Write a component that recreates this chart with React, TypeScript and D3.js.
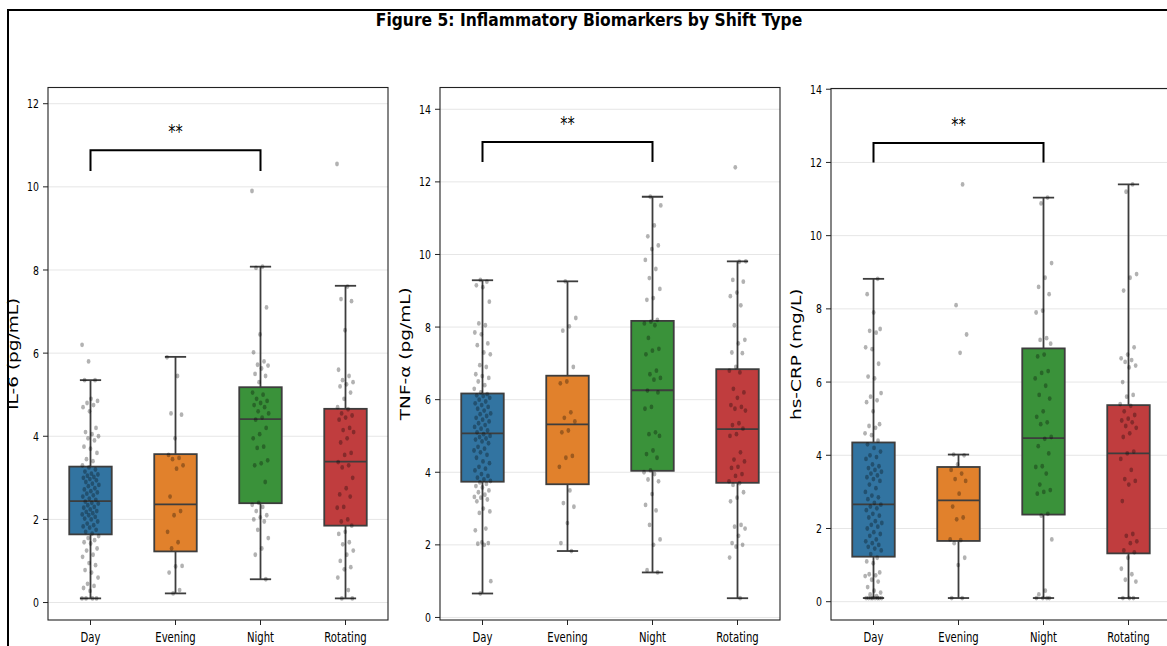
import * as d3 from 'd3';

const TITLE = 'Figure 5: Inflammatory Biomarkers by Shift Type';
const SHIFTS = ['Day', 'Evening', 'Night', 'Rotating'];
const SHIFT_COLORS = ['#3274a1', '#e1812c', '#3a923a', '#c03d3e'];
const Y_LABELS = ['IL-6 (pg/mL)', 'TNF-α (pg/mL)', 'hs-CRP (mg/L)'];
const Y_TICKS = [
  [0, 2, 4, 6, 8, 10, 12],
  [0, 2, 4, 6, 8, 10, 12, 14],
  [0, 2, 4, 6, 8, 10, 12, 14],
];
const Y_DOMAINS = [[-0.42, 12.39], [-0.07, 14.6], [-0.5, 14.02]];
// significance bracket: [leg end, bar height]
const BRACKETS = [[10.38, 10.88], [12.55, 13.1], [12.0, 12.53]];
const SIG_LABEL = '**';

// boxes: [whisker low, q1, median, q3, whisker high]
const IL6_BOXES = [
  [0.1, 1.64, 2.44, 3.27, 5.35],
  [0.22, 1.23, 2.36, 3.57, 5.91],
  [0.56, 2.39, 4.41, 5.18, 8.08],
  [0.1, 1.85, 3.39, 4.66, 7.62],
];
const TNF_BOXES = [
  [0.66, 3.74, 5.07, 6.17, 9.29],
  [1.83, 3.67, 5.32, 6.66, 9.26],
  [1.24, 4.04, 6.26, 8.17, 11.59],
  [0.53, 3.71, 5.19, 6.84, 9.81],
];
const CRP_BOXES = [
  [0.1, 1.23, 2.66, 4.35, 8.82],
  [0.1, 1.66, 2.77, 3.68, 4.02],
  [0.1, 2.38, 4.47, 6.92, 11.04],
  [0.1, 1.32, 4.05, 5.37, 11.4],
];

// individual observations
const IL6_DAY = [0.1, 0.1, 0.1, 0.1, 0.28, 0.35, 0.4, 0.45, 0.6, 0.72, 0.78, 0.9, 0.95, 1.1, 1.15, 1.25, 1.3, 1.42, 1.45, 1.5, 1.55, 1.6,
  1.66, 1.7, 1.75, 1.8, 1.83, 1.86, 1.9, 1.95, 2.0, 2.02, 2.06, 2.1, 2.12, 2.15, 2.18, 2.2, 2.24, 2.28, 2.3, 2.34, 2.38, 2.4, 2.43,
  2.47, 2.5, 2.55, 2.58, 2.62, 2.65, 2.68, 2.72, 2.75, 2.8, 2.83, 2.86, 2.9, 2.94, 2.97, 3.0, 3.02, 3.05, 3.08, 3.1, 3.15, 3.2, 3.25,
  3.3, 3.4, 3.45, 3.6, 3.7, 3.75, 3.9, 3.95, 4.0, 4.05, 4.1, 4.2, 4.6, 4.7, 4.75, 4.8, 4.85, 4.9, 5.35, 5.35, 5.8, 6.2];
const IL6_EVENING = [5.9, 5.45, 4.55, 4.52, 3.95, 3.55, 3.48, 3.45, 3.3, 3.22, 2.55, 2.2, 2.1, 1.7, 1.45, 1.3, 0.88, 0.87, 0.72, 0.3, 0.22];
const IL6_NIGHT = [9.9, 8.08, 8.05, 7.1, 6.45, 6.02, 5.8, 5.72, 5.7, 5.63, 5.5, 5.45, 5.3, 5.05, 5.0, 4.9, 4.85, 4.8, 4.75, 4.7, 4.6,
  4.55, 4.45, 4.4, 4.2, 4.05, 3.95, 3.75, 3.72, 3.42, 3.35, 3.3, 2.9, 2.4, 2.35, 2.3, 2.2, 2.1, 2.05, 2.0, 1.95, 1.75, 1.55, 1.3, 1.15, 0.56];
const IL6_ROTATING = [10.55, 7.6, 7.3, 7.25, 6.55, 5.6, 5.45, 5.35, 5.3, 5.25, 5.2, 5.05, 4.9, 4.7, 4.65, 4.55, 4.5, 4.45, 4.4, 4.2,
  4.15, 4.1, 3.95, 3.85, 3.6, 3.55, 3.38, 3.3, 3.25, 3.0, 2.75, 2.6, 2.55, 2.3, 2.28, 2.0, 1.95, 1.85, 1.7, 1.65, 1.45, 1.4, 1.25,
  1.15, 1.0, 0.85, 0.8, 0.6, 0.3, 0.1, 0.1];

const TNF_DAY = [0.66, 1.0, 2.0, 2.03, 2.05, 2.07, 2.4, 2.45, 2.88, 2.92, 3.0, 3.2, 3.25, 3.3, 3.32, 3.38, 3.45, 3.5, 3.58, 3.62, 3.68, 3.72,
  3.76, 3.8, 3.85, 3.9, 3.95, 4.05, 4.1, 4.15, 4.25, 4.3, 4.4, 4.48, 4.55, 4.6, 4.65, 4.7, 4.8, 4.85, 4.9, 4.93, 4.97, 5.0, 5.05,
  5.1, 5.15, 5.2, 5.25, 5.3, 5.35, 5.4, 5.45, 5.5, 5.55, 5.6, 5.62, 5.7, 5.75, 5.8, 5.85, 5.9, 5.95, 6.0, 6.05, 6.1, 6.12, 6.15,
  6.2, 6.3, 6.4, 6.5, 6.6, 6.65, 6.7, 6.9, 6.95, 7.25, 7.3, 7.5, 7.55, 7.8, 7.85, 8.05, 8.1, 8.7, 9.1, 9.15, 9.25, 9.3];
const TNF_EVENING = [9.26, 8.25, 8.02, 7.9, 6.9, 6.5, 6.45, 5.65, 5.5, 5.4, 5.15, 5.1, 4.45, 4.4, 4.15, 3.5, 3.15, 3.05, 2.6, 2.05, 1.83];
const TNF_NIGHT = [11.59, 11.35, 10.8, 10.5, 10.25, 10.15, 9.85, 9.6, 9.35, 9.05, 8.8, 8.75, 8.2, 8.15, 8.1, 8.05, 7.7, 7.4, 7.35,
  7.25, 6.8, 6.7, 6.6, 6.55, 6.25, 6.2, 5.8, 5.75, 5.1, 5.05, 5.0, 4.6, 4.5, 4.4, 4.05, 4.0, 3.95, 3.8, 3.75, 3.4, 3.1, 2.95, 2.55,
  2.15, 2.0, 1.3, 1.24];
const TNF_ROTATING = [12.4, 9.81, 9.8, 9.3, 9.25, 8.95, 8.85, 8.6, 8.05, 7.65, 7.55, 7.3, 7.28, 6.9, 6.8, 6.75, 6.3, 6.2, 6.05, 5.85,
  5.8, 5.75, 5.7, 5.35, 5.3, 5.2, 5.05, 5.0, 4.55, 4.35, 4.3, 4.15, 4.12, 3.95, 3.9, 3.75, 3.7, 3.65, 3.45, 3.3, 3.2, 2.55, 2.5,
  2.45, 2.25, 2.05, 2.0, 1.95, 1.65, 0.53];

const CRP_DAY = [0.1, 0.1, 0.1, 0.1, 0.1, 0.1, 0.1, 0.1, 0.15, 0.2, 0.25, 0.3, 0.4, 0.55, 0.6, 0.7, 0.72, 0.75, 0.8, 1.05, 1.1, 1.2,
  1.3, 1.4, 1.45, 1.5, 1.55, 1.6, 1.65, 1.7, 1.8, 1.85, 1.9, 2.0, 2.05, 2.1, 2.15, 2.2, 2.3, 2.35, 2.4, 2.5, 2.55, 2.6, 2.65,
  2.7, 2.8, 2.85, 2.9, 3.0, 3.1, 3.2, 3.3, 3.35, 3.4, 3.45, 3.5, 3.55, 3.6, 3.65, 3.7, 3.75, 3.9, 3.95, 4.0, 4.1, 4.2, 4.3,
  4.4, 4.55, 4.6, 4.75, 4.8, 4.85, 5.2, 5.45, 5.5, 5.6, 5.7, 6.1, 6.15, 6.5, 6.9, 6.95, 7.35, 7.4, 7.45, 7.9, 8.4, 8.82];
const CRP_EVENING = [11.4, 8.1, 7.3, 6.8, 4.02, 4.0, 3.75, 3.6, 3.5, 3.35, 3.3, 2.95, 2.6, 2.3, 2.25, 1.7, 1.68, 1.6, 1.2, 1.0, 0.1, 0.1];
const CRP_NIGHT = [11.04, 10.88, 9.25, 8.85, 8.6, 8.4, 7.95, 7.9, 7.2, 7.15, 7.05, 6.75, 6.7, 6.3, 6.25, 6.1, 5.9, 5.65, 5.55, 5.2,
  5.05, 4.9, 4.85, 4.5, 4.45, 4.25, 4.05, 3.7, 3.68, 3.5, 3.2, 3.05, 3.0, 2.95, 2.4, 2.35, 1.7, 0.3, 0.2, 0.1, 0.1, 0.1, 0.1];
const CRP_ROTATING = [11.4, 11.2, 8.95, 8.85, 8.5, 6.95, 6.75, 6.65, 6.6, 6.55, 6.45, 6.4, 6.0, 5.65, 5.6, 5.4, 5.35, 5.2, 5.1, 5.0,
  4.95, 4.9, 4.8, 4.75, 4.6, 4.5, 4.1, 4.05, 3.9, 3.6, 3.35, 3.3, 3.2, 2.75, 1.85, 1.8, 1.65, 1.6, 1.4, 1.35, 1.2, 0.9, 0.75, 0.6,
  0.55, 0.1, 0.1, 0.1];

const PANEL_BOXES = [IL6_BOXES, TNF_BOXES, CRP_BOXES];
const PANEL_POINTS = [
  [IL6_DAY, IL6_EVENING, IL6_NIGHT, IL6_ROTATING],
  [TNF_DAY, TNF_EVENING, TNF_NIGHT, TNF_ROTATING],
  [CRP_DAY, CRP_EVENING, CRP_NIGHT, CRP_ROTATING],
];

const W = 1167;
const H = 646;
const FONT = 'DejaVu Sans, sans-serif';
const SX = 0.72; // horizontal squeeze of the text in the original
const EDGE = '#3d3d3d';
const PANEL_LEFT = [48, 440, 831];
const PANEL_TOP = [87.5, 87.5, 88.5];
const PANEL_W = 340;
const PANEL_BOTTOM = 620;

function SText({ x, y, size, anchor = 'middle', weight = 'normal', rotate = 0, sx = SX, children }: any) {
  return (
    <text
      transform={`translate(${x},${y}) scale(${sx},1)${rotate ? ` rotate(${rotate})` : ''}`}
      textAnchor={anchor}
      fontSize={size}
      fontWeight={weight}
      fontFamily={FONT}
      fill="#000"
    >
      {children}
    </text>
  );
}

function Panel({ idx }: { idx: number }) {
  const left = PANEL_LEFT[idx];
  const top = PANEL_TOP[idx];
  const x = d3.scaleLinear().domain([-0.5, 3.5]).range([left, left + PANEL_W]);
  const y = d3.scaleLinear().domain(Y_DOMAINS[idx]).range([PANEL_BOTTOM, top]);
  const boxes = PANEL_BOXES[idx];
  const points = PANEL_POINTS[idx];
  const [legY, barY] = BRACKETS[idx];
  const jitter = (i: number) => (((i * 0.6180339887 + 0.37 * idx) % 1) - 0.5) * 0.2;

  return (
    <g>
      <defs>
        <clipPath id={`clip-${idx}`}>
          <rect x={left} y={top} width={PANEL_W} height={PANEL_BOTTOM - top} />
        </clipPath>
      </defs>
      {Y_TICKS[idx].map(t => (
        <line key={`g${t}`} x1={left} x2={left + PANEL_W} y1={y(t)} y2={y(t)} stroke="#e6e6e6" strokeWidth={1} />
      ))}
      <g clipPath={`url(#clip-${idx})`}>
        {boxes.map((b, i) => {
          const [lo, q1, med, q3, hi] = b;
          const cx = x(i);
          return (
            <g key={SHIFTS[i]} stroke={EDGE} strokeWidth={1.8} fill="none">
              <line x1={cx} x2={cx} y1={y(lo)} y2={y(q1)} />
              <line x1={cx} x2={cx} y1={y(q3)} y2={y(hi)} />
              <line x1={x(i - 0.125)} x2={x(i + 0.125)} y1={y(lo)} y2={y(lo)} />
              <line x1={x(i - 0.125)} x2={x(i + 0.125)} y1={y(hi)} y2={y(hi)} />
              <rect x={x(i - 0.25)} y={y(q3)} width={x(i + 0.25) - x(i - 0.25)} height={y(q1) - y(q3)} fill={SHIFT_COLORS[i]} />
              <line x1={x(i - 0.25)} x2={x(i + 0.25)} y1={y(med)} y2={y(med)} />
            </g>
          );
        })}
        {points.map((vals, i) =>
          vals.map((v, k) => (
            <ellipse key={`${i}-${k}`} cx={x(i + jitter(k))} cy={y(v)} rx={1.9} ry={2.4} fill="#000" fillOpacity={0.3} />
          ))
        )}
      </g>
      {/* significance bracket Day vs Night */}
      <path
        d={`M${x(0)},${y(legY)}V${y(barY)}H${x(2)}V${y(legY)}`}
        fill="none"
        stroke="#000"
        strokeWidth={2}
      />
      <SText x={x(1)} y={y(barY) - 12} size={20}>{SIG_LABEL}</SText>
      <rect x={left} y={top} width={PANEL_W} height={PANEL_BOTTOM - top} fill="none" stroke="#222" strokeWidth={1.1} />
      {Y_TICKS[idx].map(t => (
        <g key={`t${t}`}>
          <line x1={left - 5} x2={left} y1={y(t)} y2={y(t)} stroke="#222" strokeWidth={1} />
          <SText x={left - 9} y={y(t) + 4.6} size={13} anchor="end">{t}</SText>
        </g>
      ))}
      {SHIFTS.map((s, i) => (
        <g key={s}>
          <line x1={x(i)} x2={x(i)} y1={PANEL_BOTTOM} y2={PANEL_BOTTOM + 5} stroke="#222" strokeWidth={1} />
          <SText x={x(i)} y={PANEL_BOTTOM + 21.5} size={14}>{s}</SText>
        </g>
      ))}
      <SText x={left - 30} y={(top + PANEL_BOTTOM) / 2} size={18.5} rotate={-90}>{Y_LABELS[idx]}</SText>
    </g>
  );
}

export default function App() {
  return (
    <svg width={W} height={H} style={{ position: 'absolute', left: 0, top: 0, background: '#fff' }}>
      <rect x={0} y={0} width={W} height={H} fill="#fff" />
      <line x1={7} x2={W} y1={10} y2={10} stroke="#000" strokeWidth={2} />
      <line x1={8} x2={8} y1={9} y2={H} stroke="#000" strokeWidth={2} />
      <SText x={589} y={26} size={18.5} weight="bold" sx={0.84}>{TITLE}</SText>
      {[0, 1, 2].map(i => <Panel key={i} idx={i} />)}
    </svg>
  );
}
